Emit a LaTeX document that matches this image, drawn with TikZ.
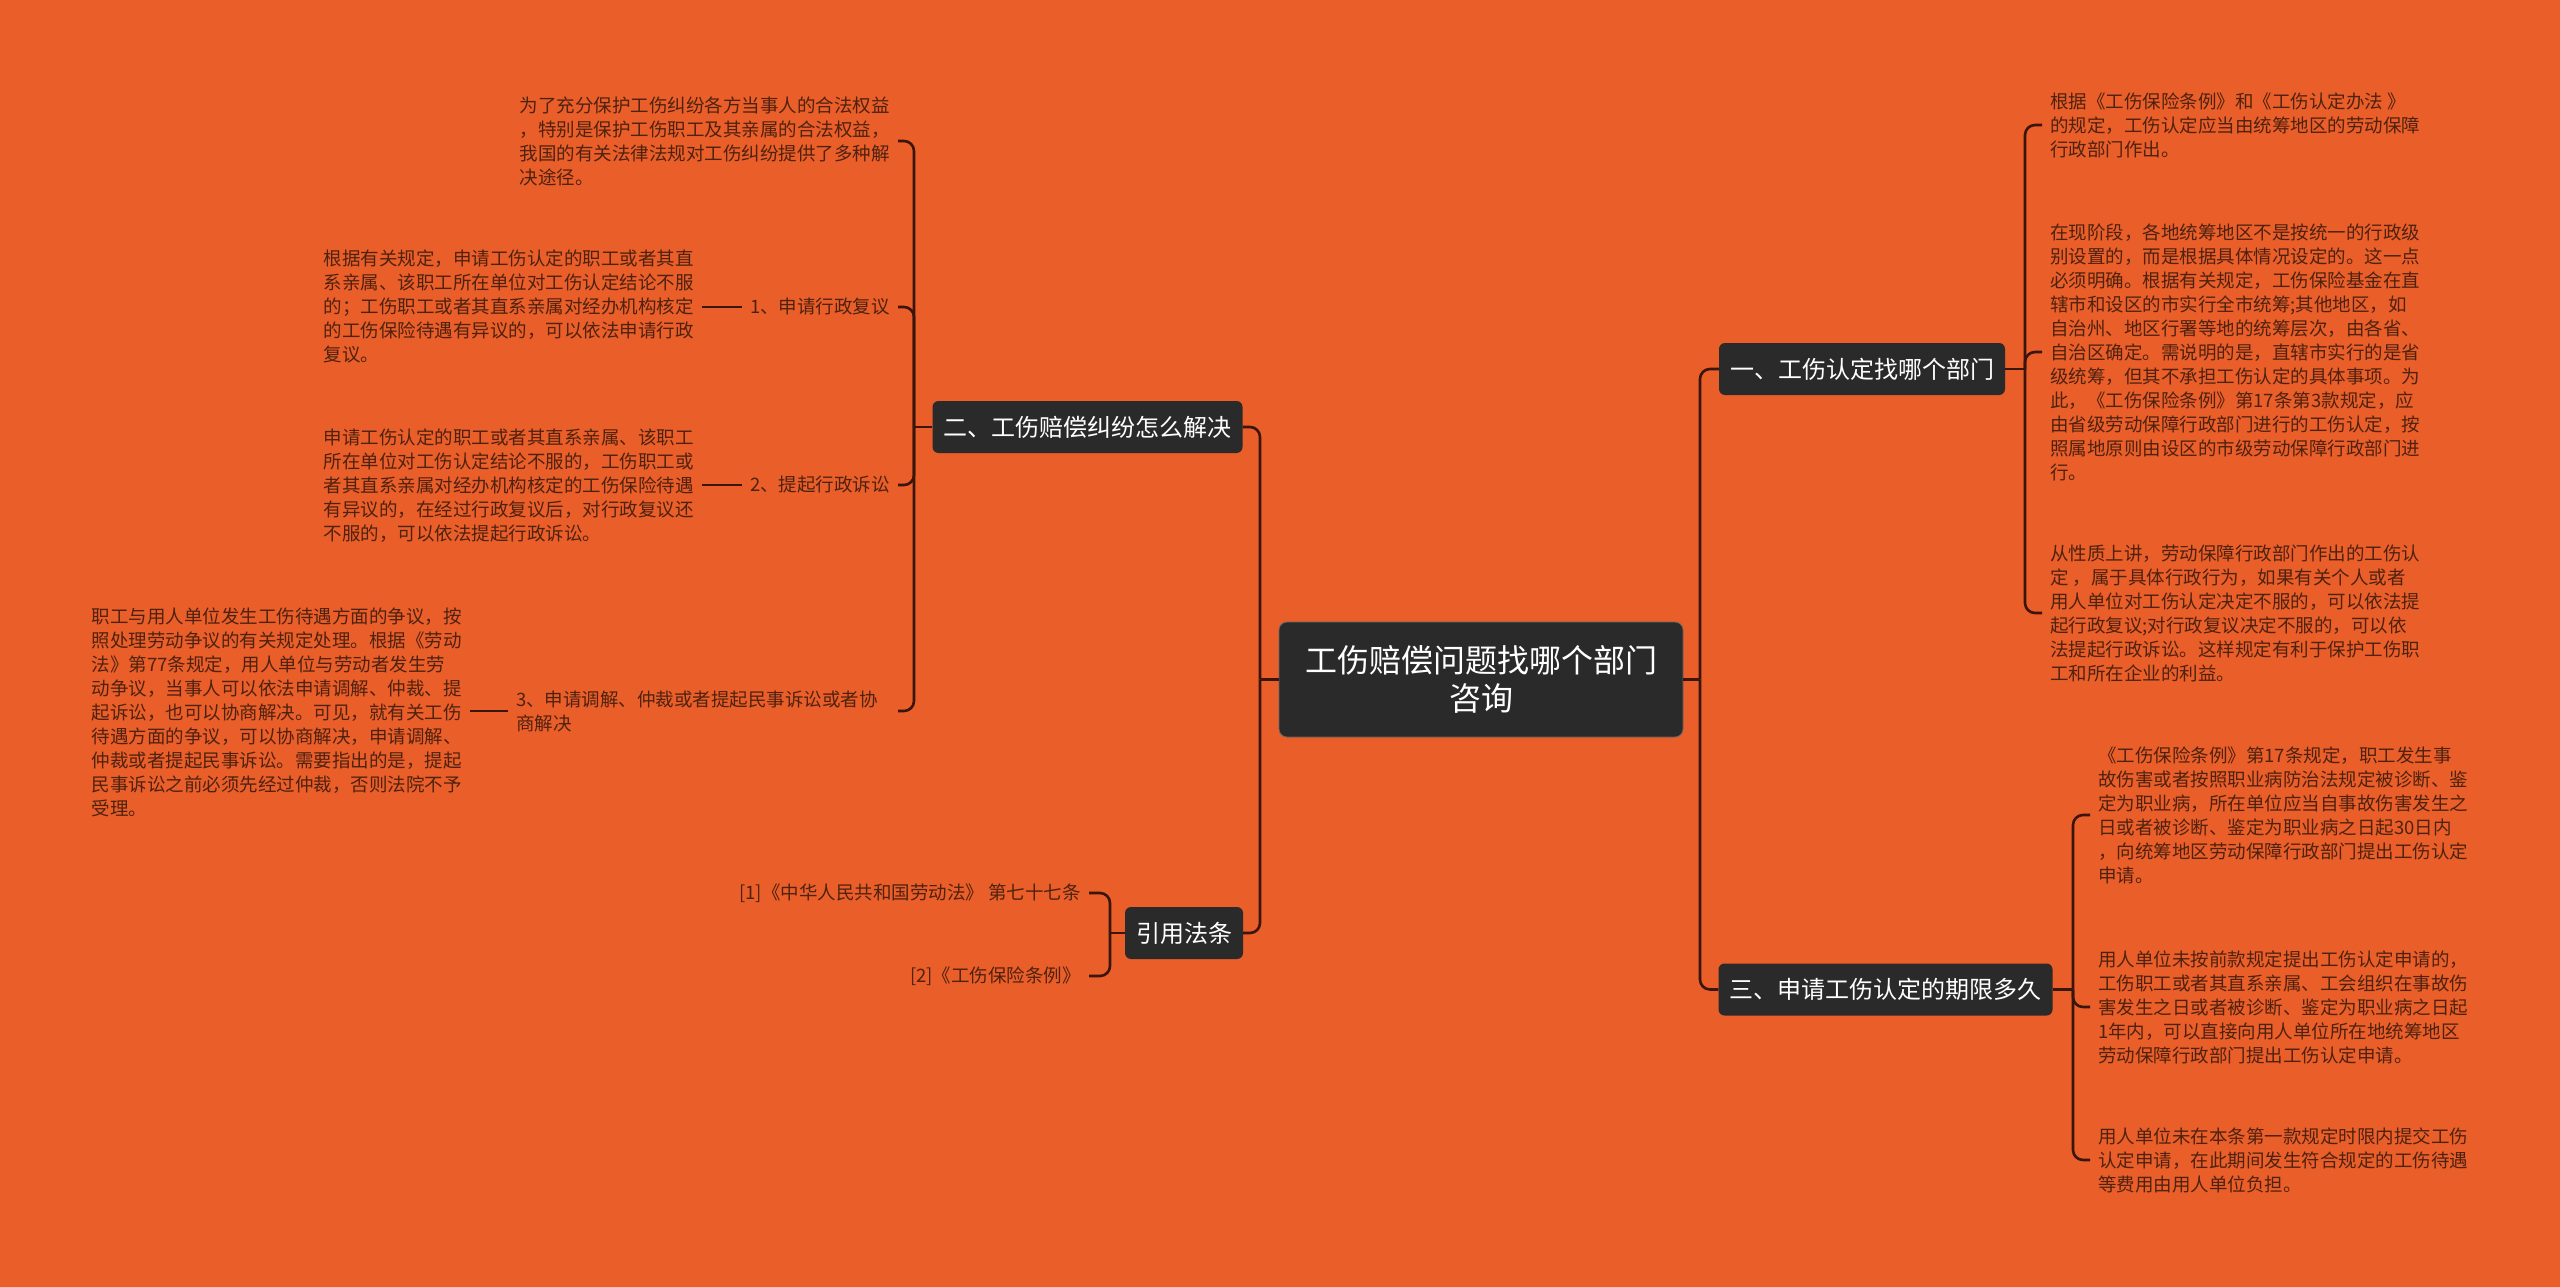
\documentclass[tikz,border=0pt]{standalone}
\usepackage{fontspec}
\setmainfont{Noto Sans CJK SC}
\definecolor{bgc}{HTML}{EA5E29}
\definecolor{txtc}{HTML}{4E2210}
\definecolor{linec}{HTML}{3A160A}
\definecolor{boxc}{HTML}{2A2A2A}
\begin{document}
\begin{tikzpicture}[x=1pt,y=-1pt,
  conn/.style={draw=linec, line width=2.6pt, rounded corners=10pt},
  para/.style={text=txtc, font=\fontsize{18.5}{24}\selectfont, align=left, inner xsep=8pt, inner ysep=0pt},
  branch/.style={fill=boxc, text=white, rounded corners=6pt, font=\fontsize{24}{28}\selectfont, minimum height=52pt, inner xsep=11pt},
  root/.style={fill=boxc, draw=black!60, line width=0.8pt, text=white, rounded corners=8pt, font=\fontsize{32}{38}\selectfont, align=center, minimum width=404pt, minimum height=115pt}]
\useasboundingbox (0,0) rectangle (2560,1287);
\fill[bgc] (0,0) rectangle (2560,1287);

% central and branch nodes
\node[root] (c) at (1481,679.5) {工伤赔偿问题找哪个部门\\咨询};
\node[branch] (b1) at (1862,369) {一、工伤认定找哪个部门};
\node[branch] (b3) at (1885.5,989.5) {三、申请工伤认定的期限多久};
\node[branch] (b2) at (1087.5,427) {二、工伤赔偿纠纷怎么解决};
\node[branch] (b4) at (1184,933) {引用法条};

% junction points
\coordinate (jc) at (1260,679.5);
\coordinate (jr) at (1700,679.5);
\coordinate (j1) at (2025,369);
\coordinate (j3) at (2073,989.5);
\coordinate (j2) at (914,427);
\coordinate (j4) at (1110,933);

% right branch 1 children
\node[para, anchor=west] (r1) at (2042,125) {根据《工伤保险条例》和《工伤认定办法 》\\的规定，工伤认定应当由统筹地区的劳动保障\\行政部门作出。};
\node[para, anchor=west] (r2) at (2042,352) {在现阶段，各地统筹地区不是按统一的行政级\\别设置的，而是根据具体情况设定的。这一点\\必须明确。根据有关规定，工伤保险基金在直\\辖市和设区的市实行全市统筹;其他地区，如\\自治州、地区行署等地的统筹层次，由各省、\\自治区确定。需说明的是，直辖市实行的是省\\级统筹，但其不承担工伤认定的具体事项。为\\此，《工伤保险条例》第17条第3款规定，应\\由省级劳动保障行政部门进行的工伤认定，按\\照属地原则由设区的市级劳动保障行政部门进\\行。};
\node[para, anchor=west] (r3) at (2042,613) {从性质上讲，劳动保障行政部门作出的工伤认\\定 ，属于具体行政行为，如果有关个人或者\\用人单位对工伤认定决定不服的，可以依法提\\起行政复议;对行政复议决定不服的，可以依\\法提起行政诉讼。这样规定有利于保护工伤职\\工和所在企业的利益。};

% right branch 3 children
\node[para, anchor=west] (s1) at (2090,815) {《工伤保险条例》第17条规定，职工发生事\\故伤害或者按照职业病防治法规定被诊断、鉴\\定为职业病，所在单位应当自事故伤害发生之\\日或者被诊断、鉴定为职业病之日起30日内\\，向统筹地区劳动保障行政部门提出工伤认定\\申请。};
\node[para, anchor=west] (s2) at (2090,1007) {用人单位未按前款规定提出工伤认定申请的，\\工伤职工或者其直系亲属、工会组织在事故伤\\害发生之日或者被诊断、鉴定为职业病之日起\\1年内，可以直接向用人单位所在地统筹地区\\劳动保障行政部门提出工伤认定申请。};
\node[para, anchor=west] (s3) at (2090,1160) {用人单位未在本条第一款规定时限内提交工伤\\认定申请，在此期间发生符合规定的工伤待遇\\等费用由用人单位负担。};

% left branch 2 children
\node[para, anchor=east] (pa) at (898,141) {为了充分保护工伤纠纷各方当事人的合法权益\\，特别是保护工伤职工及其亲属的合法权益，\\我国的有关法律法规对工伤纠纷提供了多种解\\决途径。};
\node[para, anchor=east] (la1) at (898,307) {1、申请行政复议};
\node[para, anchor=east] (pb) at (702,306) {根据有关规定，申请工伤认定的职工或者其直\\系亲属、该职工所在单位对工伤认定结论不服\\的；工伤职工或者其直系亲属对经办机构核定\\的工伤保险待遇有异议的，可以依法申请行政\\复议。};
\node[para, anchor=east] (la2) at (898,485) {2、提起行政诉讼};
\node[para, anchor=east] (pc) at (702,486) {申请工伤认定的职工或者其直系亲属、该职工\\所在单位对工伤认定结论不服的，工伤职工或\\者其直系亲属对经办机构核定的工伤保险待遇\\有异议的，在经过行政复议后，对行政复议还\\不服的，可以依法提起行政诉讼。};
\node[para, anchor=west] (la3) at (508,711) {3、申请调解、仲裁或者提起民事诉讼或者协\\商解决};
\node[para, anchor=east] (pd) at (470,712) {职工与用人单位发生工伤待遇方面的争议，按\\照处理劳动争议的有关规定处理。根据《劳动\\法》第77条规定，用人单位与劳动者发生劳\\动争议，当事人可以依法申请调解、仲裁、提\\起诉讼，也可以协商解决。可见，就有关工伤\\待遇方面的争议，可以协商解决，申请调解、\\仲裁或者提起民事诉讼。需要指出的是，提起\\民事诉讼之前必须先经过仲裁，否则法院不予\\受理。};

% references
\node[para, anchor=east] (f1) at (1089,893) {[1]《中华人民共和国劳动法》 第七十七条};
\node[para, anchor=east] (f2) at (1089,976) {[2]《工伤保险条例》};

% connectors
\draw[conn] (c.west) -- (jc);
\foreach \n in {b2,b4} \draw[conn] (jc) |- (\n.east);
\draw[conn] (c.east) -- (jr);
\foreach \n in {b1,b3} \draw[conn] (jr) |- (\n.west);
\draw[conn] (b1.east) -- (j1);
\foreach \n in {r1,r2,r3} \draw[conn] (j1) |- (\n.west);
\draw[conn] (b3.east) -- (j3);
\foreach \n in {s1,s2,s3} \draw[conn] (j3) |- (\n.west);
\draw[conn] (b2.west) -- (j2);
\draw[conn] (j2) |- (pa.east);
\draw[conn] (j2) |- (la1.east);
\draw[conn] (j2) |- (la2.east);
\draw[conn] (j2) |- (la3.east -| la1.east);
\draw[conn] (la1.west) -- (la1.west -| pb.east);
\draw[conn] (la2.west) -- (la2.west -| pc.east);
\draw[conn] (la3.west) -- (la3.west -| pd.east);
\draw[conn] (b4.west) -- (j4);
\foreach \n in {f1,f2} \draw[conn] (j4) |- (\n.east);
\end{tikzpicture}
\end{document}
